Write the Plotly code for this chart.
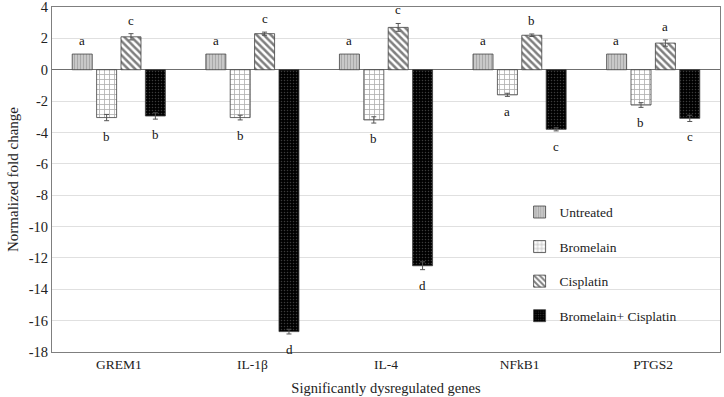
import plotly.graph_objects as go

genes = ["GREM1", "IL-1β", "IL-4", "NFkB1", "PTGS2"]
series_names = ["Untreated", "Bromelain", "Cisplatin", "Bromelain+ Cisplatin"]
untreated = [1, 1, 1, 1, 1]
bromelain = [-3.05, -3.05, -3.2, -1.6, -2.25]
cisplatin = [2.1, 2.3, 2.7, 2.2, 1.7]
combo = [-2.95, -16.7, -12.5, -3.8, -3.1]
untreated_err = [0, 0, 0, 0, 0]
bromelain_err = [0.2, 0.15, 0.2, 0.1, 0.15]
cisplatin_err = [0.2, 0.1, 0.25, 0.08, 0.2]
combo_err = [0.2, 0.15, 0.25, 0.1, 0.2]
untreated_lbl = ["a", "a", "a", "a", "a"]
bromelain_lbl = ["b", "b", "b", "a", "b"]
cisplatin_lbl = ["c", "c", "c", "b", "a"]
combo_lbl = ["b", "d", "d", "c", "c"]
y_ticks = list(range(-18, 5, 2))
y_tick_labels = [str(t) for t in y_ticks]

values = [untreated, bromelain, cisplatin, combo]
errs = [untreated_err, bromelain_err, cisplatin_err, combo_err]
lbls = [untreated_lbl, bromelain_lbl, cisplatin_lbl, combo_lbl]
patterns = [
    dict(shape="|", bgcolor="#c8c8c8", fgcolor="#8a8a8a", size=3, solidity=0.35),
    dict(shape="+", bgcolor="#ffffff", fgcolor="#606060", size=5, solidity=0.3),
    dict(shape="\\", bgcolor="#ffffff", fgcolor="#000000", size=5, solidity=0.5),
    dict(shape=".", bgcolor="#000000", fgcolor="#777777", size=3, solidity=0.2),
]

FONT = "Liberation Serif"
fig = go.Figure()
for i, name in enumerate(series_names):
    fig.add_trace(go.Bar(
        name=name, x=genes, y=values[i],
        marker=dict(color=patterns[i]["bgcolor"], pattern=patterns[i],
                    line=dict(color="#404040", width=0.8)),
        error_y=dict(type="data", array=errs[i], visible=any(e > 0 for e in errs[i]),
                     color="#555555", thickness=1, width=2.5),
        legendgroup=name,
    ))

n = len(series_names)
annotations = []
for i in range(n):
    for j, g in enumerate(genes):
        v = values[i][j]
        e = errs[i][j]
        pos = v >= 0
        annotations.append(dict(
            x=g, y=v + e if pos else v - e, xref="x", yref="y",
            text=lbls[i][j], showarrow=False,
            xshift=(i - (n - 1) / 2) * 24.5,
            yanchor="bottom" if pos else "top",
            yshift=4 if pos else -6,
            font=dict(family=FONT, size=13, color="#111111"),
        ))

fig.update_layout(
    width=724, height=397,
    margin=dict(l=52, r=4, t=7, b=45),
    paper_bgcolor="white", plot_bgcolor="white",
    barmode="group", bargap=0.27, bargroupgap=0.18,
    font=dict(family=FONT, size=13, color="#222222"),
    annotations=annotations,
    legend=dict(x=0.70, y=0.45, xanchor="left", yanchor="top",
                bgcolor="rgba(0,0,0,0)", traceorder="grouped",
                tracegroupgap=14, itemwidth=30,
                font=dict(family=FONT, size=13.5, color="#222222")),
    xaxis=dict(showline=True, linecolor="#7f7f7f", linewidth=1, mirror=True,
               ticks="", tickfont=dict(family=FONT, size=13.5),
               title=dict(text="Significantly dysregulated genes", standoff=11,
                          font=dict(family=FONT, size=14.5))),
    yaxis=dict(range=[-18, 4.001], tickvals=y_ticks, ticktext=y_tick_labels,
               showline=True, linecolor="#7f7f7f", automargin=False,
               linewidth=1, mirror=True, gridcolor="#e0e0e0", gridwidth=1,
               zeroline=True, zerolinecolor="#6f6f6f", zerolinewidth=1,
               tickfont=dict(family=FONT, size=14.5), ticklabeloverflow="allow",
               title=dict(text="Normalized fold change", standoff=6,
                          font=dict(family=FONT, size=15))),
)
fig.write_html("out.html", config={"displayModeBar": False},
               post_script="document.body.style.margin='0';document.body.style.padding='0';")
